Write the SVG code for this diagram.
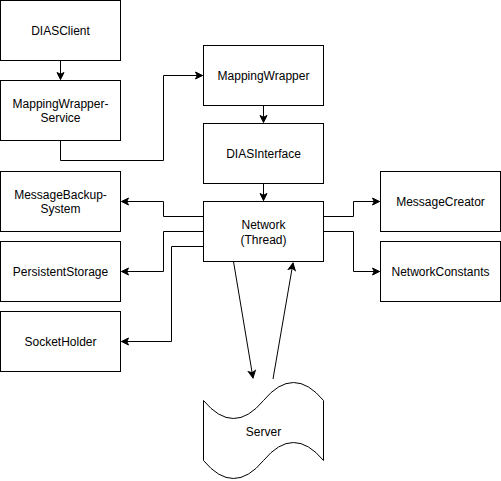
<svg xmlns="http://www.w3.org/2000/svg" width="501" height="481" viewBox="0 0 501 481">
<style>
.box{fill:#ffffff;stroke:#000000;stroke-width:1}
.lbl{font-family:"Liberation Sans",Arial,Helvetica,sans-serif;font-size:12px;fill:#000000;text-anchor:middle}
.edge{fill:none;stroke:#000000;stroke-width:1;marker-end:url(#arr)}
</style>
<defs>
<marker id="arr" markerUnits="userSpaceOnUse" markerWidth="10" markerHeight="10" viewBox="-8 -5 10 10" refX="0" refY="0" orient="auto">
<path d="M-7,-3.5 L0,0 L-7,3.5 L-5.25,0 Z" fill="#000000" stroke="#000000" stroke-width="1"/>
</marker>
</defs>
<rect width="501" height="481" fill="#ffffff"/>
<g id="connectors">
<path class="edge" d="M60.5,60.5 L60.5,79.5"/>
<path class="edge" d="M60.5,140.5 L60.5,160.5 L163.5,160.5 L163.5,75.5 L202.5,75.5"/>
<path class="edge" d="M263.5,105.5 L263.5,122.5"/>
<path class="edge" d="M263.5,183.5 L263.5,200.5"/>
<path class="edge" d="M203.5,216.5 L163.5,216.5 L163.5,201.5 L121.5,201.5"/>
<path class="edge" d="M203.5,231.5 L163.5,231.5 L163.5,271.5 L121.5,271.5"/>
<path class="edge" d="M203.5,246.5 L171.5,246.5 L171.5,341.5 L121.5,341.5"/>
<path class="edge" d="M323.5,216.5 L353.5,216.5 L353.5,201.5 L379.5,201.5"/>
<path class="edge" d="M323.5,231.5 L353.5,231.5 L353.5,271.5 L379.5,271.5"/>
<path class="edge" d="M233.5,261.5 L253,378"/>
<path class="edge" d="M273,379 L293,263"/>
</g>
<g id="DIASClient"><rect class="box" x="0.5" y="0.5" width="120" height="60"/><text class="lbl" x="60.5" y="35">DIASClient</text></g>
<g id="MappingWrapperService"><rect class="box" x="0.5" y="80.5" width="120" height="60"/><text class="lbl" x="60.5" y="108">MappingWrapper-</text><text class="lbl" x="60.5" y="122">Service</text></g>
<g id="MappingWrapper"><rect class="box" x="203.5" y="45.5" width="120" height="60"/><text class="lbl" x="263.5" y="80">MappingWrapper</text></g>
<g id="DIASInterface"><rect class="box" x="203.5" y="123.5" width="120" height="60"/><text class="lbl" x="263.5" y="158">DIASInterface</text></g>
<g id="Network"><rect class="box" x="203.5" y="201.5" width="120" height="60"/><text class="lbl" x="263.5" y="229">Network</text><text class="lbl" x="263.5" y="244">(Thread)</text></g>
<g id="MessageBackupSystem"><rect class="box" x="0.5" y="171.5" width="120" height="60"/><text class="lbl" x="60.5" y="199">MessageBackup-</text><text class="lbl" x="60.5" y="213">System</text></g>
<g id="PersistentStorage"><rect class="box" x="0.5" y="241.5" width="120" height="60"/><text class="lbl" x="60.5" y="276">PersistentStorage</text></g>
<g id="SocketHolder"><rect class="box" x="0.5" y="311.5" width="120" height="60"/><text class="lbl" x="60.5" y="346">SocketHolder</text></g>
<g id="MessageCreator"><rect class="box" x="380.5" y="171.5" width="120" height="60"/><text class="lbl" x="440.5" y="206">MessageCreator</text></g>
<g id="NetworkConstants"><rect class="box" x="380.5" y="241.5" width="120" height="60"/><text class="lbl" x="440.5" y="276">NetworkConstants</text></g>
<g id="Server"><path class="box" d="M203.5,400.5 Q233.5,436.5 263.5,400.5 Q293.5,364.5 323.5,400.5 L323.5,460.5 Q293.5,424.5 263.5,460.5 Q233.5,496.5 203.5,460.5 Z"/><text class="lbl" x="263.5" y="436">Server</text></g>
</svg>
